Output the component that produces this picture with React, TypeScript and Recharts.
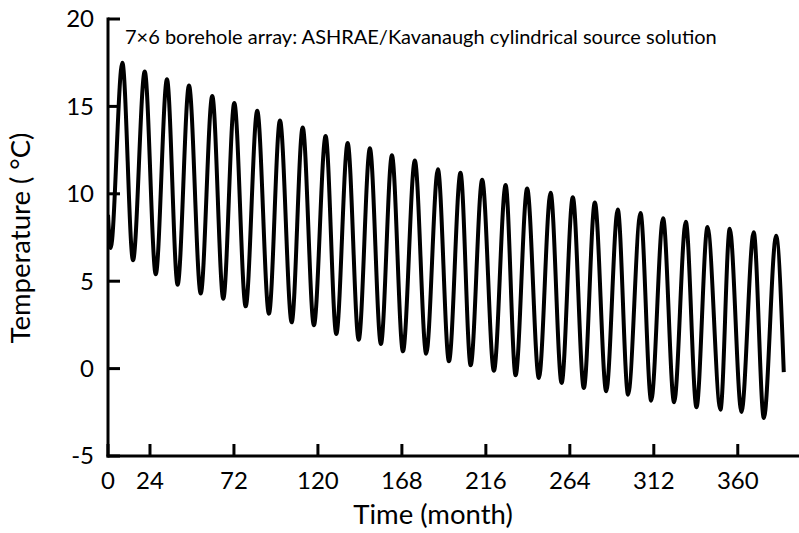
import { Line, LineChart, XAxis, YAxis } from "recharts";

// alternating yearly maxima / minima of the fluid temperature
const peakMonths = [8.2, 21.0, 33.7, 46.3, 59.6, 72.2, 85.3, 98.3, 111.3, 124.4, 137.0, 149.7, 162.3, 175.4, 188.6, 201.5, 213.9, 227.3, 239.6, 253.0, 265.7, 278.3, 291.4, 304.4, 317.3, 330.3, 342.7, 355.4, 369.1, 381.9];
const peakTemps = [17.5, 17.0, 16.55, 16.2, 15.6, 15.2, 14.75, 14.2, 13.8, 13.3, 12.9, 12.6, 12.2, 11.9, 11.4, 11.2, 10.8, 10.5, 10.3, 10.06, 9.8, 9.5, 9.1, 8.9, 8.6, 8.4, 8.1, 8.0, 7.8, 7.6];
const troughMonths = [1.5, 14.3, 27.3, 39.8, 53.0, 65.9, 78.7, 92.0, 105.0, 117.7, 130.5, 143.3, 156.0, 168.6, 181.9, 194.9, 207.3, 220.6, 233.0, 246.3, 259.3, 272.0, 284.8, 297.3, 310.5, 323.6, 336.4, 350.1, 362.1, 374.9];
const troughTemps = [6.9, 6.2, 5.4, 4.8, 4.3, 4.0, 3.56, 3.14, 2.65, 2.48, 1.98, 1.65, 1.41, 0.99, 0.85, 0.42, 0.19, -0.12, -0.38, -0.54, -0.82, -1.11, -1.3, -1.49, -1.84, -1.93, -2.21, -2.35, -2.48, -2.83];
const startPoint = { month: 0, temp: 8.8 };
const endPoint = { month: 386.3, temp: -0.2 };

const xTicks = [0, 24, 72, 120, 168, 216, 264, 312, 360];
const yTicks = [-5, 0, 5, 10, 15, 20];

const FONT = "Lato, 'Open Sans', sans-serif";

const data = [
  startPoint,
  ...troughMonths.flatMap((m, i) => [
    { month: m, temp: troughTemps[i] },
    { month: peakMonths[i], temp: peakTemps[i] },
  ]),
  endPoint,
];

function XTick({ x, y, payload }: any) {
  return (
    <g>
      <line x1={x} x2={x} y1={y} y2={y - 12} stroke="#000" strokeWidth={3} />
      <text x={x} y={y + 33} textAnchor="middle" fontSize={24} fontFamily={FONT} fill="#000">
        {payload.value}
      </text>
    </g>
  );
}

function YTick({ x, y, payload }: any) {
  return (
    <g>
      <line x1={x} x2={x + 12} y1={y} y2={y} stroke="#000" strokeWidth={3} />
      <text x={x - 14} y={y} dy="0.35em" textAnchor="end" fontSize={24} fontFamily={FONT} fill="#000">
        {payload.value}
      </text>
    </g>
  );
}

export default function App() {
  return (
    <div style={{ position: "absolute", left: 0, top: 0, width: 799, height: 533, background: "#fff" }}>
      <LineChart width={799} height={533} data={data} margin={{ top: 19, right: 0, bottom: 0, left: 8 }}>
        <XAxis
          dataKey="month"
          type="number"
          domain={[0, 395]}
          ticks={xTicks}
          allowDataOverflow
          height={77}
          tickSize={0}
          tickMargin={0}
          tickLine={false}
          axisLine={{ stroke: "#000", strokeWidth: 3, strokeLinecap: "square" }}
          tick={<XTick />}
        />
        <YAxis
          type="number"
          domain={[-5, 20]}
          ticks={yTicks}
          width={100}
          tickSize={0}
          tickMargin={0}
          tickLine={false}
          axisLine={{ stroke: "#000", strokeWidth: 3, strokeLinecap: "square" }}
          tick={<YTick />}
        />
        <Line type="monotone" dataKey="temp" stroke="#000" strokeWidth={4} dot={false} isAnimationActive={false} />
      </LineChart>
      <svg width={799} height={533} style={{ position: "absolute", left: 0, top: 0, pointerEvents: "none" }}>
        <text x={125} y={44} fontSize={20} fontFamily={FONT} fill="#000">
          7×6 borehole array: ASHRAE/Kavanaugh cylindrical source solution
        </text>
        <text x={433} y={524} textAnchor="middle" fontSize={27.5} fontFamily={FONT} fill="#000">
          Time (month)
        </text>
        <text x={30} y={238} textAnchor="middle" fontSize={27.5} fontFamily={FONT} fill="#000" transform="rotate(-90 30 238)">
          Temperature ( °C)
        </text>
      </svg>
    </div>
  );
}
